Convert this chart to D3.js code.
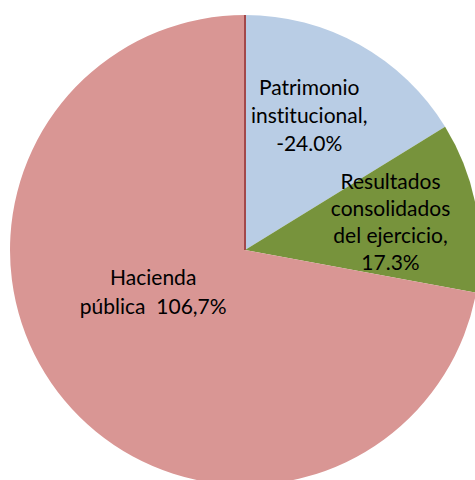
<!DOCTYPE html>
<meta charset="utf-8">
<style>
  body { margin: 0; background: #fff; overflow: hidden; }
  .label { font-family: Lato, "Open Sans", sans-serif; font-size: 21px; fill: #000; font-variant-ligatures: none; }
</style>
<body>
  <div id="chart"></div>
  <script src="https://d3js.org/d3.v7.min.js"></script>
  <script>
    // data
    var names = ["Patrimonio institucional", "Resultados consolidados del ejercicio", "Hacienda pública"];
    var values = [-24.0, 17.3, 106.7];
    var labelLines = [
      ["Patrimonio", "institucional,", "-24.0%"],
      ["Resultados", "consolidados", "del ejercicio,", "17.3%"],
      ["Hacienda", "pública  106,7%"]
    ];
    var colors = ["#b9cde5", "#77933c", "#d99694"];

    var width = 475, height = 480;
    var cx = 245, cy = 250, radius = 235;

    var svg = d3.select("#chart")
      .append("svg")
      .attr("width", width)
      .attr("height", height)
      .append("g")
      .attr("transform", "translate(" + cx + "," + cy + ")");

    var data = values.map(function (v, i) { return { name: names[i], value: v, lines: labelLines[i] }; });

    // slices are sized by absolute value
    var pie = d3.pie()
      .sort(null)
      .value(function (d) { return Math.abs(d.value); });

    var arc = d3.arc().innerRadius(0).outerRadius(radius);
    var labelArc = d3.arc().innerRadius(0).outerRadius(radius * 1.26);

    var arcs = pie(data);

    svg.selectAll("path.slice")
      .data(arcs)
      .enter()
      .append("path")
      .attr("class", "slice")
      .attr("d", arc)
      .attr("fill", function (d, i) { return colors[i]; });

    // dark edge along the start of the first slice
    var a0 = arcs[0].startAngle;
    svg.append("line")
      .attr("x1", 0).attr("y1", 0)
      .attr("x2", radius * Math.sin(a0))
      .attr("y2", -radius * Math.cos(a0))
      .attr("stroke", "#a3484a")
      .attr("stroke-width", 2);

    // label nudges (px) from the label-arc centroid
    var nudge = [[-8, -5], [0, 0], [22, -52]];
    var lineH = [28, 27, 29];

    svg.selectAll("text.label")
      .data(arcs)
      .enter()
      .append("text")
      .attr("class", "label")
      .attr("text-anchor", "middle")
      .each(function (d, i) {
        var c = labelArc.centroid(d);
        var x = c[0] + nudge[i][0];
        var n = d.data.lines.length;
        var y0 = c[1] + nudge[i][1] - (n - 1) * lineH[i] / 2 + 7;
        d3.select(this).selectAll("tspan")
          .data(d.data.lines)
          .enter()
          .append("tspan")
          .attr("x", x)
          .attr("y", function (t, j) { return y0 + j * lineH[i]; })
          .attr("xml:space", "preserve")
          .style("white-space", "pre")
          .text(function (t) { return t; });
      });
  </script>
</body>
